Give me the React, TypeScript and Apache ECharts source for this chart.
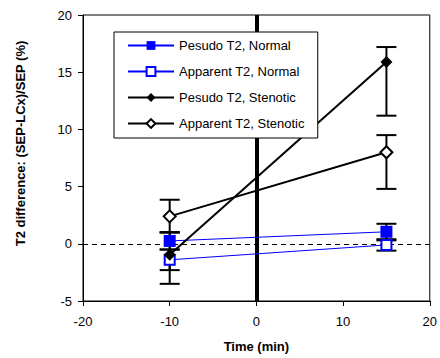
import React, { useEffect, useRef } from "react";
import * as echarts from "echarts";

const timePoints = [-10, 15];
const xTicks = [-20, -10, 0, 10, 20];
const yTicks = [-5, 0, 5, 10, 15, 20];

const pseudoNormal = [0.25, 1.05];
const pseudoNormalLow = [-0.5, 0.3];
const pseudoNormalHigh = [1.0, 1.75];

const apparentNormal = [-1.4, -0.1];
const apparentNormalLow = [-2.3, -0.6];
const apparentNormalHigh = [-0.5, 0.4];

const pseudoStenotic = [-0.95, 15.9];
const pseudoStenoticLow = [-3.5, 11.2];
const pseudoStenoticHigh = [1.0, 17.2];

const apparentStenotic = [2.4, 8.0];
const apparentStenoticLow = [1.0, 4.8];
const apparentStenoticHigh = [3.85, 9.5];

const seriesNames = [
  "Pesudo T2, Normal",
  "Apparent T2, Normal",
  "Pesudo T2, Stenotic",
  "Apparent T2, Stenotic",
];

const FONT = "'Liberation Sans', Arial, sans-serif";

export default function App() {
  const ref = useRef<HTMLDivElement>(null);
  useEffect(() => {
    document.body.style.margin = "0";
    const chart = echarts.init(ref.current!, null, { renderer: "svg" });
    const pts = (vals: number[]) => timePoints.map((t, i) => [t, vals[i]]);
    const errs = (lo: number[], hi: number[]) => timePoints.map((t, i) => [t, lo[i], hi[i]]);
    const errData = [
      ...errs(pseudoNormalLow, pseudoNormalHigh),
      ...errs(apparentNormalLow, apparentNormalHigh),
      ...errs(pseudoStenoticLow, pseudoStenoticHigh),
      ...errs(apparentStenoticLow, apparentStenoticHigh),
    ];
    const blue = "#0000ff";
    chart.setOption({
      animation: false,
      grid: {
        left: 83,
        top: 15,
        width: 350,
        height: 290,
        show: true,
        borderColor: "#000",
        borderWidth: 1,
        backgroundColor: "transparent",
      },
      xAxis: {
        type: "value",
        min: xTicks[0],
        max: xTicks[xTicks.length - 1],
        interval: 10,
        name: "Time (min)",
        nameLocation: "middle",
        nameGap: 39,
        nameTextStyle: { fontFamily: FONT, fontWeight: "bold", fontSize: 13, color: "#000" },
        axisLine: { onZero: false, lineStyle: { color: "#000", width: 1 } },
        axisTick: { inside: false, length: 5, lineStyle: { color: "#000" } },
        axisLabel: { margin: 14, fontFamily: FONT, fontSize: 13, color: "#000" },
        splitLine: { show: false },
      },
      yAxis: {
        type: "value",
        min: yTicks[0],
        max: yTicks[yTicks.length - 1],
        interval: 5,
        axisLine: { show: true, onZero: false, lineStyle: { color: "#000", width: 1 } },
        axisTick: { show: true, inside: false, length: 5, lineStyle: { color: "#000" } },
        axisLabel: { margin: 11, fontFamily: FONT, fontSize: 13, color: "#000" },
        splitLine: { show: false },
      },
      legend: {
        data: seriesNames,
        orient: "vertical",
        left: 114,
        top: 32,
        padding: [7, 13, 8, 13],
        itemGap: 13,
        itemWidth: 46,
        itemHeight: 11,
        selectedMode: false,
        backgroundColor: "#fff",
        borderColor: "#000",
        borderWidth: 1,
        textStyle: { fontFamily: FONT, fontSize: 13, color: "#000" },
      },
      graphic: [
        {
          type: "text",
          x: 20,
          y: 143.5,
          rotation: Math.PI / 2,
          style: {
            text: "T2 difference: (SEP-LCx)/SEP (%)",
            font: `bold 13px ${FONT}`,
            fill: "#000",
            textAlign: "center",
            textVerticalAlign: "middle",
          },
        },
      ],
      series: [
        {
          type: "custom",
          name: "errors",
          z: 1,
          silent: true,
          data: errData,
          encode: { x: 0, y: [1, 2] },
          renderItem: (params: any, api: any) => {
            const x = api.value(0);
            const pLo = api.coord([x, api.value(1)]);
            const pHi = api.coord([x, api.value(2)]);
            const hw = 10;
            const style = { stroke: "#000", lineWidth: 2 };
            return {
              type: "group",
              children: [
                { type: "line", shape: { x1: pLo[0], y1: pLo[1], x2: pHi[0], y2: pHi[1] }, style },
                { type: "line", shape: { x1: pLo[0] - hw, y1: pLo[1], x2: pLo[0] + hw, y2: pLo[1] }, style },
                { type: "line", shape: { x1: pHi[0] - hw, y1: pHi[1], x2: pHi[0] + hw, y2: pHi[1] }, style },
              ],
            };
          },
        },
        {
          type: "line",
          name: seriesNames[0],
          z: 3,
          data: pts(pseudoNormal),
          symbol: "rect",
          symbolSize: 12,
          lineStyle: { color: blue, width: 1 },
          itemStyle: { color: blue },
          markLine: {
            silent: true,
            symbol: "none",
            label: { show: false },
            z: 2,
            data: [
              { yAxis: 0, lineStyle: { color: "#000", width: 1, type: [5, 4] } },
              { xAxis: 0, lineStyle: { color: "#000", width: 4, type: "solid" } },
            ],
          },
        },
        {
          type: "line",
          name: seriesNames[1],
          z: 3,
          data: pts(apparentNormal),
          symbol: "emptyRect",
          symbolSize: 10,
          lineStyle: { color: blue, width: 1 },
          itemStyle: { color: blue },
        },
        {
          type: "line",
          name: seriesNames[2],
          z: 3,
          data: pts(pseudoStenotic),
          symbol: "diamond",
          symbolSize: 12,
          lineStyle: { color: "#000", width: 2 },
          itemStyle: { color: "#000" },
        },
        {
          type: "line",
          name: seriesNames[3],
          z: 3,
          data: pts(apparentStenotic),
          symbol: "emptyDiamond",
          symbolSize: 12,
          lineStyle: { color: "#000", width: 2 },
          itemStyle: { color: "#000" },
        },
      ],
    });
    return () => chart.dispose();
  }, []);
  return <div ref={ref} style={{ width: 440, height: 358 }} />;
}
